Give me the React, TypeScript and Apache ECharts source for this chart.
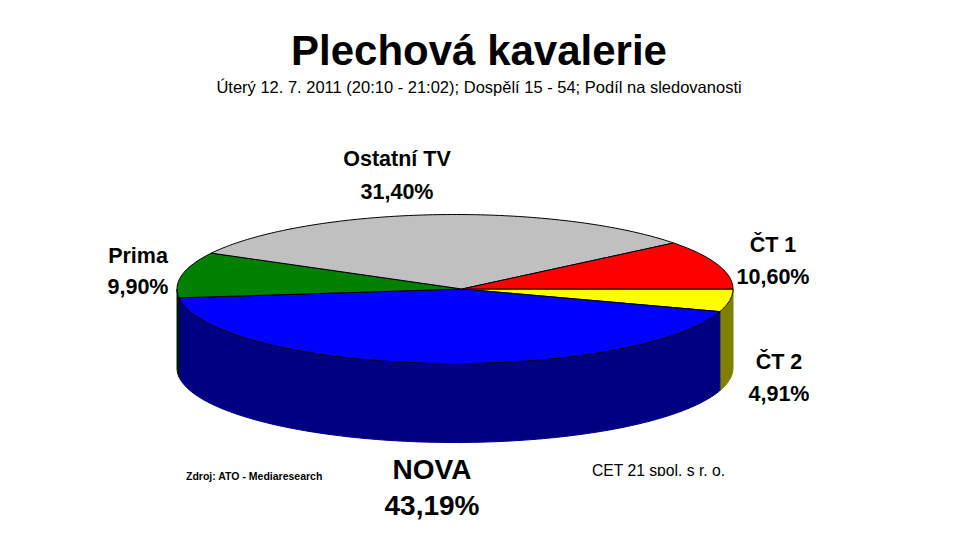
import React, { useEffect, useRef } from "react";
import * as echarts from "echarts";

// Clockwise from 3 o'clock, as in the picture
const categories = ["ČT 2", "NOVA", "Prima", "Ostatní TV", "ČT 1"];
const shares = [4.91, 43.19, 9.9, 31.4, 10.6];
const titleText = "Plechová kavalerie";
const subtitleText = "Úterý 12. 7. 2011 (20:10 - 21:02); Dospělí 15 - 54; Podíl na sledovanosti";
const sourceText = "Zdroj: ATO - Mediaresearch";
const ownerText = "CET 21 spol. s r. o.";

const topColors = ["#FFFF00", "#0000FF", "#008000", "#C0C0C0", "#FF0000"];
const sideColors = ["#808000", "#000080", "#001a00", "#606060", "#800000"];

const CX = 455;
const CY = 289;
const RX = 278;
const RY = 74.5;
const DEPTH = 79;
const APEX_X = 462;

const total = shares.reduce((a, b) => a + b, 0);
const startAngle = (i: number) =>
  (shares.slice(0, i).reduce((a, b) => a + b, 0) / total) * Math.PI * 2;
const rim = (a: number, dy = 0): [number, number] => [
  CX + RX * Math.cos(a),
  CY + RY * Math.sin(a) + dy,
];
const arc = (a0: number, a1: number, dy = 0) => {
  const n = Math.max(2, Math.ceil(((a1 - a0) * 180) / Math.PI));
  const pts: [number, number][] = [];
  for (let k = 0; k <= n; k++) pts.push(rim(a0 + ((a1 - a0) * k) / n, dy));
  return pts;
};

const renderWall = (params: any) => {
  const i = params.dataIndex;
  const a0 = startAngle(i);
  const a1 = Math.min(startAngle(i + 1), Math.PI);
  if (a0 >= Math.PI) return { type: "group", children: [] };
  const points = [...arc(a0, a1), ...arc(a0, a1, DEPTH).reverse()];
  return {
    type: "polygon",
    shape: { points },
    style: { fill: sideColors[i], stroke: sideColors[i], lineWidth: 1 },
  };
};

const renderTop = (params: any) => {
  const i = params.dataIndex;
  const points = [[APEX_X, CY], ...arc(startAngle(i), startAngle(i + 1))];
  return {
    type: "polygon",
    shape: { points },
    style: { fill: topColors[i], stroke: "#000", lineWidth: 1 },
  };
};

const fmt = (v: number) => v.toFixed(2).replace(".", ",") + "%";

const labelLayout: Record<string, { x: number; y: number; size: number; gap: number }> = {
  "Ostatní TV": { x: 397, y: 159, size: 21.5, gap: 33 },
  Prima: { x: 138, y: 256, size: 21.5, gap: 31 },
  "ČT 1": { x: 773, y: 245, size: 21.5, gap: 32 },
  "ČT 2": { x: 779, y: 362, size: 21.5, gap: 32 },
  NOVA: { x: 432, y: 469, size: 28, gap: 36 },
};

const txt = (text: string, x: number, y: number, size: number, weight: string, align = "center") => ({
  type: "text",
  x,
  y,
  style: {
    text,
    fill: "#000",
    font: `${weight} ${size}px "Liberation Sans", Arial, sans-serif`,
    textAlign: align,
    textVerticalAlign: "middle",
  },
});

export default function App() {
  const ref = useRef<HTMLDivElement>(null);
  useEffect(() => {
    document.body.style.margin = "0";
    const chart = echarts.init(ref.current!, undefined, { renderer: "svg" });
    const labels: any[] = [];
    categories.forEach((c, i) => {
      const l = labelLayout[c];
      labels.push(txt(c, l.x, l.y, l.size, "bold"));
      labels.push(txt(fmt(shares[i]), l.x, l.y + l.gap, l.size, "bold"));
    });
    chart.setOption({
      animation: false,
      backgroundColor: "#fff",
      series: [
        { type: "custom", coordinateSystem: "none", silent: true, data: shares, renderItem: renderWall, z: 1 },
        { type: "custom", coordinateSystem: "none", silent: true, data: shares, renderItem: renderTop, z: 2 },
      ],
      graphic: [
        txt(titleText, 479, 50, 42, "bold"),
        txt(subtitleText, 479, 87, 16.5, "normal"),
        ...labels,
        txt(sourceText, 186, 476, 10.5, "bold", "left"),
        txt(ownerText, 592, 470, 15.7, "normal", "left"),
        {
          type: "rect",
          shape: { x: 585, y: 476, width: 150, height: 14 },
          style: { fill: "#fff" },
          z: 100,
        },
      ],
    });
    return () => chart.dispose();
  }, []);
  return <div ref={ref} style={{ position: "absolute", left: 0, top: 0, width: 959, height: 541 }} />;
}
